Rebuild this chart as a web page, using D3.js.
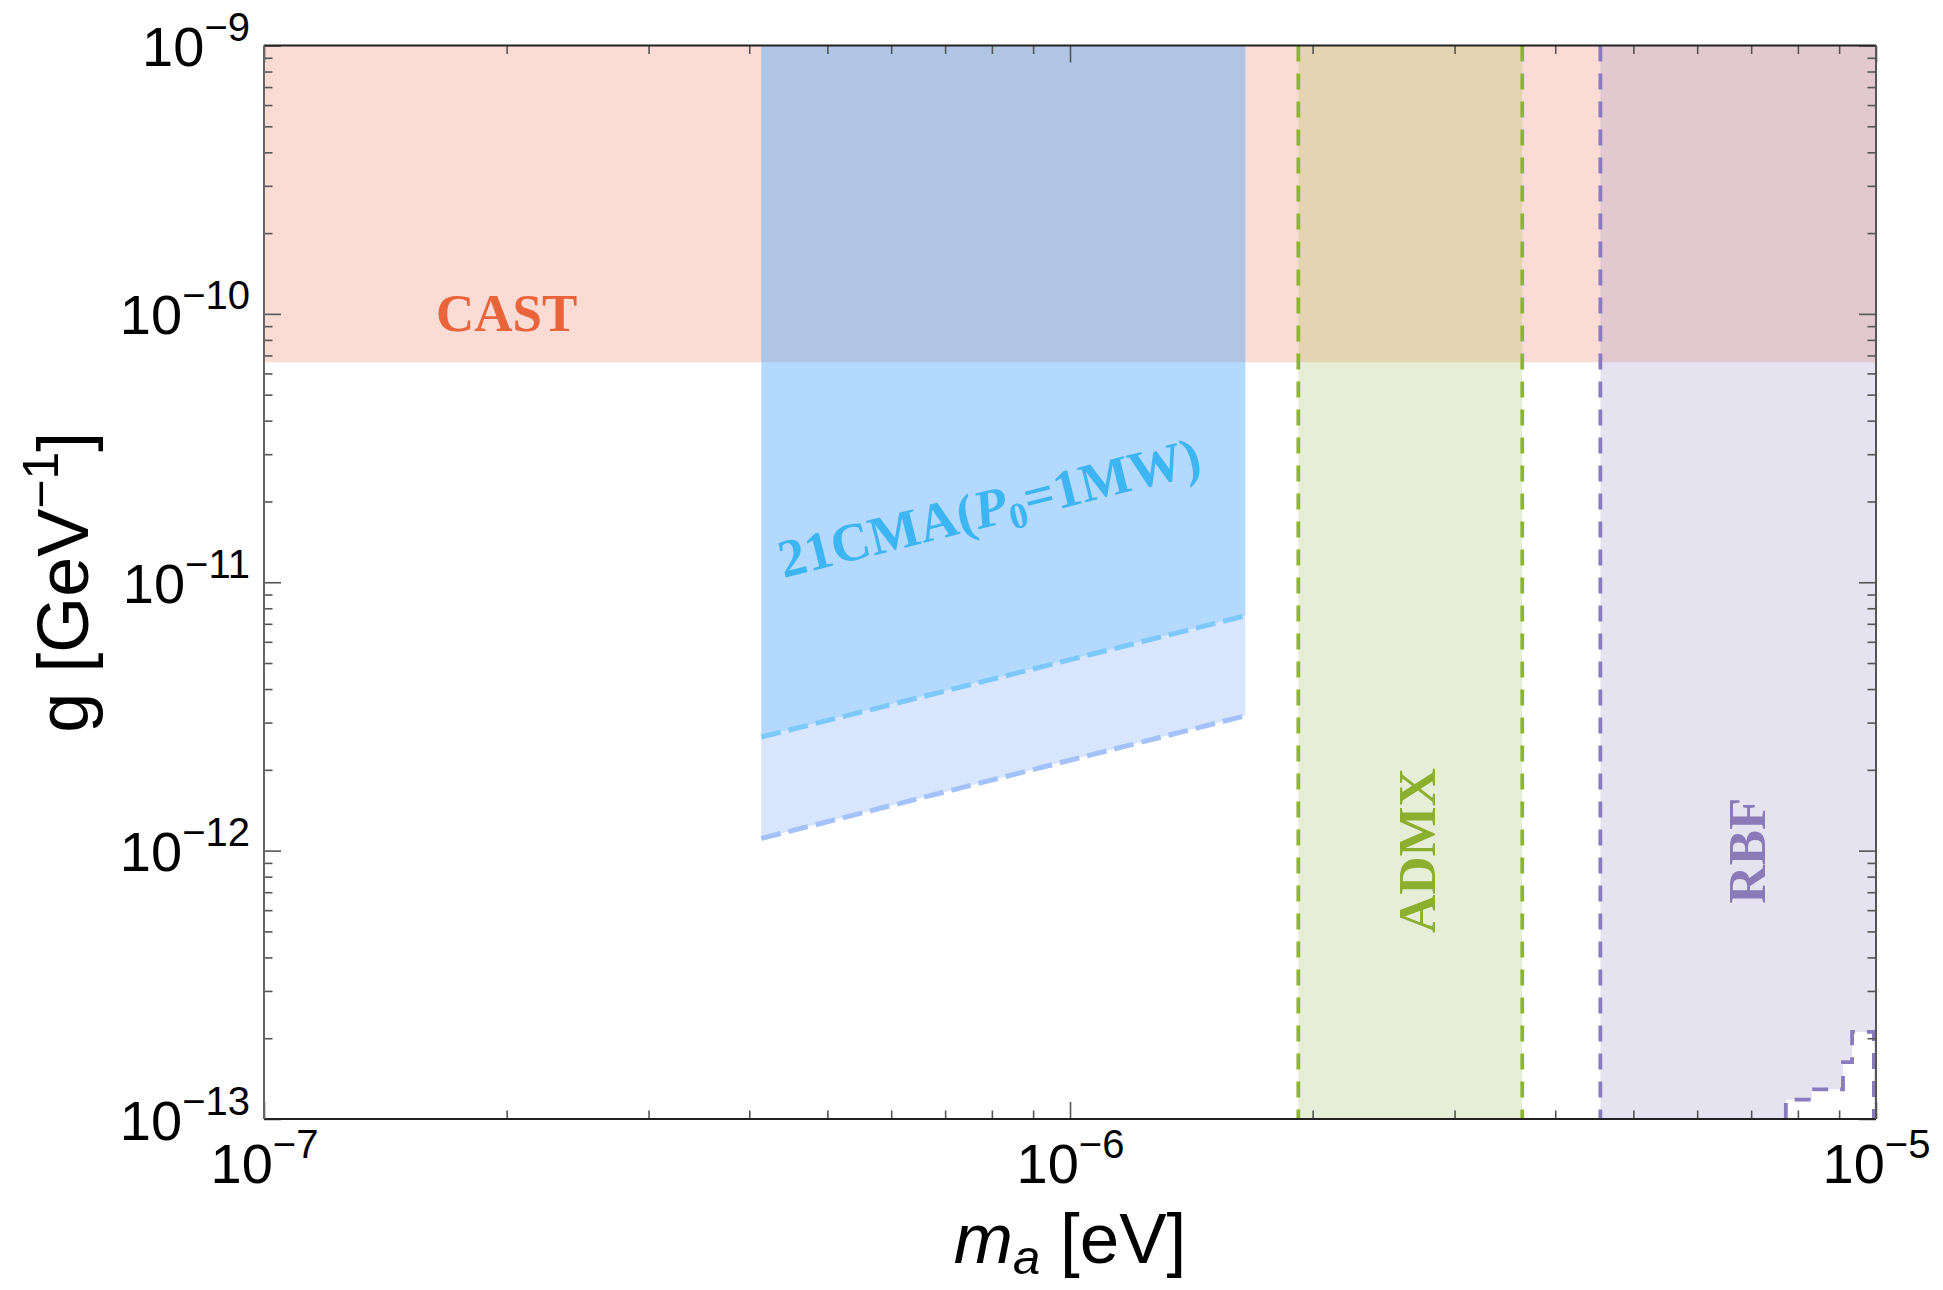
<!DOCTYPE html>
<html>
<head>
<meta charset="utf-8">
<script src="https://cdn.jsdelivr.net/npm/d3@7"></script>
<style>
  html, body { margin: 0; padding: 0; background: #ffffff; }
  svg { display: block; }
</style>
</head>
<body>
<svg id="chart" width="1943" height="1290"></svg>
<script>
// ---- axes ----
const massDomain = [1e-7, 1e-5];          // m_a [eV]
const couplingDomain = [1e-13, 1e-9];     // g [GeV^-1]
const massMajorTicks = [1e-7, 1e-6, 1e-5];
const massTickExponents = ["−7", "−6", "−5"];
const couplingMajorTicks = [1e-13, 1e-12, 1e-11, 1e-10, 1e-9];
const couplingTickExponents = ["−13", "−12", "−11", "−10", "−9"];

// ---- CAST helioscope bound ----
const castLimit = 6.6e-11;

// ---- 21CMA reach (50–200 MHz) ----
const cmaMass = [4.14e-7, 1.65e-6];
const cmaReachUpper = [2.65e-12, 7.5e-12];
const cmaReachLower = [1.11e-12, 3.18e-12];

// ---- ADMX ----
const admxMass = [1.92e-6, 3.64e-6];

// ---- RBF ----
const rbfMass = [4.55e-6, 1e-5];
const rbfStepMass = [7.73e-6, 8.33e-6, 9.10e-6, 9.34e-6, 9.94e-6];
const rbfStepCoupling = [1.18e-13, 1.29e-13, 1.63e-13, 2.11e-13];

// ---- layout ----
const plot = { left: 264, right: 1876, top: 45.5, bottom: 1119 };
const svg = d3.select("#chart");
const x = d3.scaleLog().domain(massDomain).range([plot.left, plot.right]);
const y = d3.scaleLog().domain(couplingDomain).range([plot.bottom, plot.top]);
const line = d3.line().x(d => x(d[0])).y(d => y(d[1]));
const [mMin, mMax] = massDomain;
const [gMin, gMax] = couplingDomain;

const sansFont = "'Liberation Sans', Arial, Helvetica, sans-serif";
const serifFont = "'Liberation Serif', 'Times New Roman', serif";

// ---- region outlines ----
const castPoly = [[mMin, castLimit], [mMax, castLimit], [mMax, gMax], [mMin, gMax]];
const cmaTopPoly = [[cmaMass[0], cmaReachUpper[0]], [cmaMass[1], cmaReachUpper[1]],
                    [cmaMass[1], gMax], [cmaMass[0], gMax]];
const cmaBandPoly = [[cmaMass[0], cmaReachLower[0]], [cmaMass[1], cmaReachLower[1]],
                     [cmaMass[1], cmaReachUpper[1]], [cmaMass[0], cmaReachUpper[0]]];
const admxPoly = [[admxMass[0], gMin], [admxMass[1], gMin], [admxMass[1], gMax], [admxMass[0], gMax]];
const rbfStairs = [[rbfStepMass[0], gMin]];
rbfStepCoupling.forEach((g, i) => {
  rbfStairs.push([rbfStepMass[i], g], [rbfStepMass[i + 1], g]);
});
rbfStairs.push([rbfStepMass[rbfStepMass.length - 1], gMin]);
const rbfPoly = [[rbfMass[0], gMax], [rbfMass[1], gMax], [rbfMass[1], gMin],
                 ...rbfStairs.slice().reverse(), [rbfMass[0], gMin]];

const bands = [
  { poly: cmaTopPoly,  fill: "#b3d9fd", overlap: "#b0c5e4" },
  { poly: cmaBandPoly, fill: "#d7e6fd", overlap: null },
  { poly: admxPoly,    fill: "#e7eed8", overlap: "#e4d4b2" },
  { poly: rbfPoly,     fill: "#e5e3ef", overlap: "#e2c9cf" }
];

const defs = svg.append("defs");
defs.append("clipPath").attr("id", "frameClip").append("rect")
  .attr("x", plot.left).attr("y", plot.top - 2)
  .attr("width", plot.right - plot.left).attr("height", plot.bottom - plot.top + 2);
defs.append("clipPath").attr("id", "castClip").append("path").attr("d", line(castPoly) + "Z");

const regions = svg.append("g").attr("clip-path", "url(#frameClip)");
regions.append("path").attr("d", line(castPoly) + "Z").attr("fill", "#fadcd5");
regions.selectAll("path.band").data(bands).join("path")
  .attr("class", "band")
  .attr("d", d => line(d.poly) + "Z")
  .attr("fill", d => d.fill);
regions.append("g").attr("clip-path", "url(#castClip)")
  .selectAll("path").data(bands.filter(b => b.overlap)).join("path")
  .attr("d", d => line(d.poly) + "Z")
  .attr("fill", d => d.overlap);

// ---- dashed boundaries ----
const dashes = svg.append("g").attr("clip-path", "url(#frameClip)").attr("fill", "none");
dashes.append("path")
  .attr("d", line([[cmaMass[0], cmaReachUpper[0]], [cmaMass[1], cmaReachUpper[1]]]))
  .attr("stroke", "#7dc9fb").attr("stroke-width", 5).attr("stroke-dasharray", "20,8");
dashes.append("path")
  .attr("d", line([[cmaMass[0], cmaReachLower[0]], [cmaMass[1], cmaReachLower[1]]]))
  .attr("stroke", "#a3c2fb").attr("stroke-width", 5).attr("stroke-dasharray", "20,8");
admxMass.forEach(m => {
  dashes.append("path").attr("d", line([[m, gMax], [m, gMin]]))
    .attr("stroke", "#8db52f").attr("stroke-width", 3.8).attr("stroke-dasharray", "16,12");
});
dashes.append("path").attr("d", line([[rbfMass[0], gMax], [rbfMass[0], gMin]]))
  .attr("stroke", "#8a7bbd").attr("stroke-width", 3.8).attr("stroke-dasharray", "16,12");
dashes.append("path").attr("d", line(rbfStairs))
  .attr("stroke", "#8a7bbd").attr("stroke-width", 3.8).attr("stroke-dasharray", "16,12");

// ---- frame ticks ----
function minorTicks(domain) {
  const out = [];
  for (let e = Math.round(Math.log10(domain[0])); e < Math.round(Math.log10(domain[1])); e++) {
    for (let k = 2; k <= 9; k++) out.push(k * Math.pow(10, e));
  }
  return out;
}
const massMinor = minorTicks(massDomain);
const couplingMinor = minorTicks(couplingDomain);
const majorLen = 17, minorLen = 8.5;

function tickAxis(axisFn, scale, values, len, transform) {
  const g = svg.append("g").attr("transform", transform)
    .call(axisFn(scale).tickValues(values).tickSize(len).tickFormat(""));
  g.select(".domain").remove();
  g.selectAll(".tick line").attr("stroke", "#555").attr("stroke-width", 1.6);
  return g;
}
tickAxis(d3.axisTop, x, massMajorTicks, majorLen, `translate(0,${plot.bottom})`);
tickAxis(d3.axisTop, x, massMinor, minorLen, `translate(0,${plot.bottom})`);
tickAxis(d3.axisBottom, x, massMajorTicks, majorLen, `translate(0,${plot.top})`);
tickAxis(d3.axisBottom, x, massMinor, minorLen, `translate(0,${plot.top})`);
tickAxis(d3.axisRight, y, couplingMajorTicks, majorLen, `translate(${plot.left},0)`);
tickAxis(d3.axisRight, y, couplingMinor, minorLen, `translate(${plot.left},0)`);
tickAxis(d3.axisLeft, y, couplingMajorTicks, majorLen, `translate(${plot.right},0)`);
tickAxis(d3.axisLeft, y, couplingMinor, minorLen, `translate(${plot.right},0)`);

// frame lines
const frame = svg.append("g").attr("stroke-width", 2);
frame.append("line").attr("x1", plot.left).attr("x2", plot.right)
  .attr("y1", plot.top).attr("y2", plot.top).attr("stroke", "#222");
frame.append("line").attr("x1", plot.left).attr("x2", plot.right)
  .attr("y1", plot.bottom).attr("y2", plot.bottom).attr("stroke", "#222");
frame.append("line").attr("x1", plot.left).attr("x2", plot.left)
  .attr("y1", plot.top).attr("y2", plot.bottom).attr("stroke", "#666");
frame.append("line").attr("x1", plot.right).attr("x2", plot.right)
  .attr("y1", plot.top).attr("y2", plot.bottom).attr("stroke", "#555");

// ---- tick labels (10^n) ----
function powerLabel(text, exponent) {
  text.text(null);
  text.append("tspan").text("10");
  text.append("tspan").attr("font-size", 40).attr("dy", -25).text(exponent);
}
const xLabels = svg.append("g").attr("transform", `translate(0,${plot.bottom})`)
  .call(d3.axisBottom(x).tickValues(massMajorTicks).tickSize(0).tickFormat(""));
xLabels.select(".domain").remove();
xLabels.selectAll(".tick text")
  .attr("y", 64).attr("dy", 0)
  .attr("font-family", sansFont).attr("font-size", 56).attr("fill", "#000")
  .attr("text-anchor", "middle")
  .each(function (d, i) { powerLabel(d3.select(this), massTickExponents[i]); });

const yLabels = svg.append("g").attr("transform", `translate(${plot.left},0)`)
  .call(d3.axisLeft(y).tickValues(couplingMajorTicks).tickSize(0).tickFormat(""));
yLabels.select(".domain").remove();
yLabels.selectAll(".tick text")
  .attr("x", -14).attr("dy", 20)
  .attr("font-family", sansFont).attr("font-size", 56).attr("fill", "#000")
  .attr("text-anchor", "end")
  .each(function (d, i) { powerLabel(d3.select(this), couplingTickExponents[i]); });

// ---- axis titles ----
const xTitle = svg.append("text")
  .attr("x", (plot.left + plot.right) / 2).attr("y", 1263)
  .attr("text-anchor", "middle").attr("font-family", sansFont).attr("font-size", 71).attr("fill", "#000");
xTitle.append("tspan").attr("font-style", "italic").text("m");
xTitle.append("tspan").attr("font-style", "italic").attr("font-size", 49).attr("dy", 11).text("a");
xTitle.append("tspan").attr("dy", -11).text(" [eV]");

const yTitle = svg.append("text")
  .attr("transform", `translate(88,${(plot.top + plot.bottom) / 2}) rotate(-90)`)
  .attr("text-anchor", "middle").attr("font-family", sansFont).attr("font-size", 72).attr("fill", "#000");
yTitle.append("tspan").text("g [GeV");
yTitle.append("tspan").attr("font-size", 50).attr("dy", -30).text("−1");
yTitle.append("tspan").attr("dy", 30).text("]");

// ---- region labels ----
const labels = svg.append("g").attr("font-family", serifFont).attr("font-weight", "bold").attr("font-size", 53);

labels.append("text").attr("x", x(2e-7)).attr("y", y(8.6e-11))
  .attr("text-anchor", "middle").attr("fill", "#e9643a").text("CAST");

const cmaAngle = Math.atan2(y(cmaReachUpper[1]) - y(cmaReachUpper[0]),
                            x(cmaMass[1]) - x(cmaMass[0])) * 180 / Math.PI;
const cmaLabel = labels.append("text")
  .attr("transform", `translate(${x(7.94e-7)},${y(1.89e-11)}) rotate(${cmaAngle})`)
  .attr("text-anchor", "middle").attr("dy", "0.33em").attr("fill", "#3db5f2")
  .attr("font-size", 54);
cmaLabel.append("tspan").text("21CMA(");
cmaLabel.append("tspan").attr("font-style", "italic").text("P");
cmaLabel.append("tspan").attr("font-size", 37).attr("dy", 9).text("0");
cmaLabel.append("tspan").attr("dy", -9).text("=1MW)");

labels.append("text")
  .attr("transform", `translate(${x(2.84e-6)},${y(1e-12)}) rotate(-90)`)
  .attr("text-anchor", "middle").attr("fill", "#8daf30").text("ADMX");
labels.append("text")
  .attr("transform", `translate(${x(7.28e-6)},${y(1e-12)}) rotate(-90)`)
  .attr("text-anchor", "middle").attr("fill", "#8a7ab8").text("RBF");
</script>
</body>
</html>
